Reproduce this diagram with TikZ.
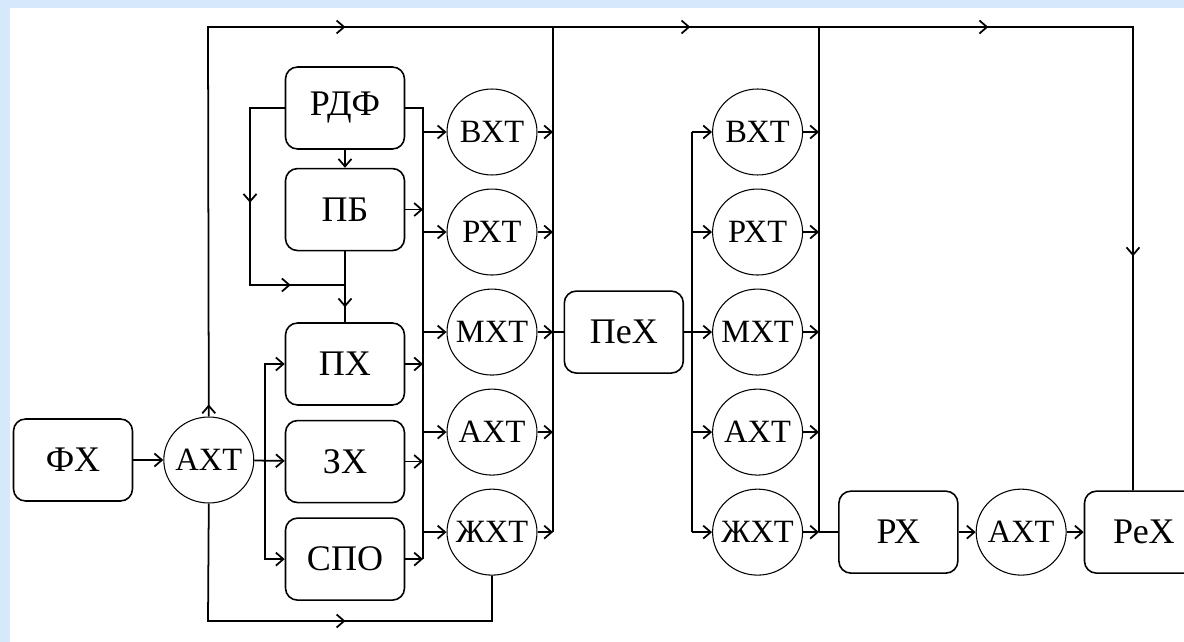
\documentclass[tikz,border=0pt]{standalone}
\usepackage{fontspec}
\setmainfont{Liberation Serif}
\usetikzlibrary{arrows.meta, positioning, shapes.geometric, decorations.markings}
\definecolor{slideblue}{RGB}{214,233,252}

\begin{document}
\begin{tikzpicture}[
    x=0.02cm, y=-0.02cm,
    line width=1pt,
    box/.style={rectangle, draw, line width=0.9pt, rounded corners=0.24cm, minimum width=2.38cm, minimum height=1.64cm, font=\fontsize{20.5}{24}\selectfont},
    oval/.style={ellipse, draw, line width=0.6pt, inner sep=-6pt, minimum width=1.8cm, minimum height=1.72cm, font=\fontsize{18.5}{22}\selectfont},
    arrow/.style={-{Straight Barb[length=1.5mm,width=2.6mm]}},
    midarrow/.style={postaction={decorate, decoration={markings, mark=at position #1 with {\arrow{Straight Barb[length=1.5mm,width=2.6mm]}}}}}
]
\clip (0,0) rectangle (1184,642);
\fill[slideblue] (0,0) rectangle (1184,642);
\fill[white] (10,8) rectangle (1184,642);

\node[box] (fx) at (73,460) {ФХ};
\node[oval, right=0.6cm of fx] (axt) {АХТ};
\node[box] (rdf) at (345,108) {РДФ};
\node[box, below=0.36cm of rdf] (pb) {ПБ};
\node[box] (pkh) at (345,364) {ПХ};
\node[box, below=0.28cm of pkh] (zkh) {ЗХ};
\node[box, below=0.28cm of zkh] (spo) {СПО};

\node[oval] (v1) at (492,132) {ВХТ};
\node[oval, below=0.26cm of v1] (r1) {РХТ};
\node[oval, below=0.26cm of r1] (m1) {МХТ};
\node[oval, below=0.26cm of m1] (a1) {АХТ};
\node[oval, below=0.26cm of a1] (zh1) {ЖХТ};

\node[box, right=0.52cm of m1] (pex) {ПеХ};
\node[oval, right=0.56cm of pex] (m2) {МХТ};
\node[oval, above=0.26cm of m2] (r2) {РХТ};
\node[oval, above=0.26cm of r2] (v2) {ВХТ};
\node[oval, below=0.26cm of m2] (a2) {АХТ};
\node[oval, below=0.26cm of a2] (zh2) {ЖХТ};

\node[box, right=0.7cm of zh2] (rx) {РХ};
\node[oval, right=0.34cm of rx] (axt2) {АХТ};
\node[box, right=0.34cm of axt2] (rex) {РеХ};

\coordinate (tl) at (208,27);
\coordinate (tr) at (1133,27);
\coordinate (bl) at (208,621);
\coordinate (fl) at (250,285);
\coordinate (ib) at (265,460);
\coordinate (ob) at (423,108);
\coordinate (b1) at (553,27);
\coordinate (b2) at (692,27);
\coordinate (b3) at (819,27);

\draw[midarrow=0.24cm, midarrow=10.54cm, midarrow=17.44cm, midarrow=23.4cm, midarrow=30.88cm]
    (axt.north) -- (tl) -- (tr) -- (tr |- rex.north);
\draw[midarrow=5.1cm] (axt.south) -- (bl) -| (zh1.south);

\draw[arrow] (fx) -- (axt);
\draw[arrow] (axt) -- (zkh);
\draw[arrow] (ib) |- (pkh);
\draw[arrow] (ib) |- (spo);

\draw[arrow] (rdf) -- (pb);
\draw[midarrow=1.12cm] (pb) -- (pkh);
\draw[midarrow=2.59cm, midarrow=5.05cm] (rdf.west) -| (fl) -- (fl -| pb.south);

\draw (rdf) -- (ob) -- (ob |- spo);
\foreach \n in {pb,pkh,zkh,spo}
    \draw[arrow] (\n) -- (\n -| ob);
\foreach \n in {v1,r1,m1,a1,zh1}
    \draw[arrow] (\n -| ob) -- (\n);

\draw (b1) -- (b1 |- zh1);
\foreach \n in {v1,r1,m1,a1,zh1}
    \draw[arrow] (\n) -- (\n -| b1);
\draw (m1 -| b1) -- (pex);

\draw[arrow] (pex) -- (m2);
\draw (v2 -| b2) -- (zh2 -| b2);
\foreach \n in {v2,r2,a2,zh2}
    \draw[arrow] (\n -| b2) -- (\n);

\draw (b3) -- (b3 |- zh2);
\foreach \n in {v2,r2,m2,a2,zh2}
    \draw[arrow] (\n) -- (\n -| b3);
\draw (zh2 -| b3) -- (rx);
\draw[arrow] (rx) -- (axt2);
\draw[arrow] (axt2) -- (rex);
\end{tikzpicture}
\end{document}
